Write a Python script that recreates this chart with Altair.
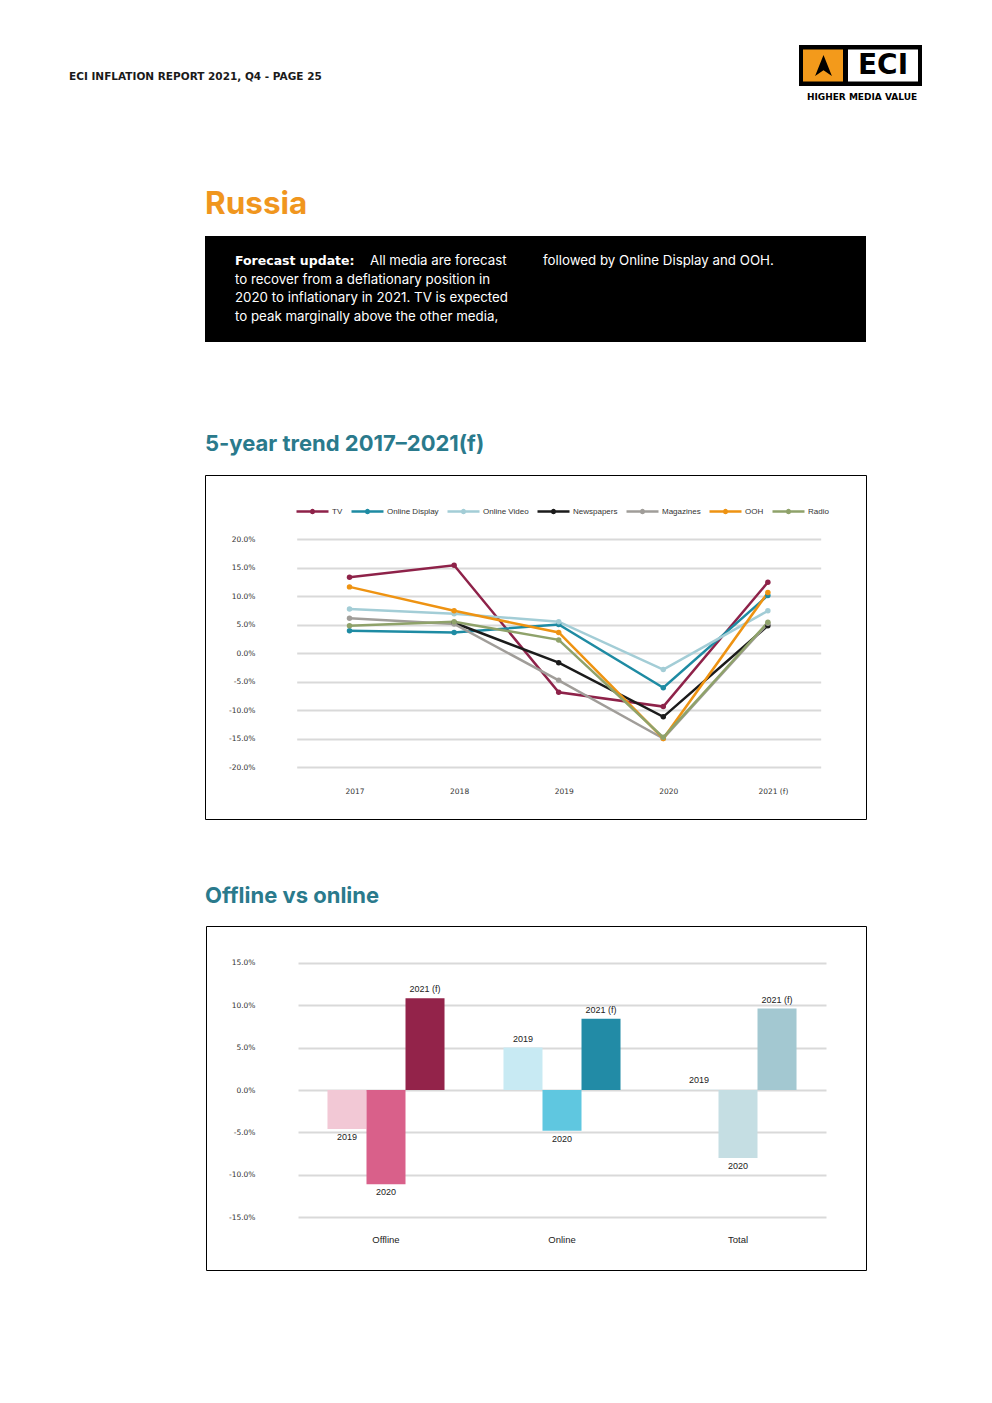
import altair as alt
import pandas as pd

# ---------------- data ----------------
years = ["2017", "2018", "2019", "2020", "2021 (f)"]
media = ["TV", "Online Display", "Online Video", "Newspapers", "Magazines", "OOH", "Radio"]
media_colors = ["#8E2249", "#1E8BA3", "#A3CDD6", "#1B1B1B", "#A09D99", "#EE9312", "#8FA26A"]
tv = [13.3, 15.4, -6.9, -9.4, 12.4]
online_display = [3.9, 3.6, 5.0, -6.1, 10.1]
online_video = [7.7, 6.9, 5.5, -2.9, 7.4]
newspapers = [None, 5.3, -1.7, -11.2, 4.8]
magazines = [6.1, 5.1, -4.8, -15.0, 5.2]
ooh = [11.6, 7.4, 3.6, -15.0, 10.6]
radio = [4.8, 5.5, 2.3, -14.8, 5.4]
line_ticks = [-20, -15, -10, -5, 0, 5, 10, 15, 20]

categories = ["Offline", "Online", "Total"]
bar_years = ["2019", "2020", "2021 (f)"]
offline = [-4.6, -11.1, 10.8]
online = [5.0, -4.8, 8.4]
total = [0.1, -8.0, 9.6]
bar_colors = ["#F2C8D5", "#D9608A", "#93234A",
              "#C8EAF3", "#5FC7E0", "#228BA6",
              "#E6F1F3", "#C5DEE3", "#A3C8D1"]
bar_ticks = [-15, -10, -5, 0, 5, 10, 15]

# ---------------- layout ----------------
W, H = 976, 1387


def pg(v):
    """page pixel -> chart pixel (8px body margin)"""
    return v - 8


AX_FONT = "DejaVu Sans"
HEAD_FONT = "Inter"
TEAL = "#2A7A8C"
ORANGE = "#F0961E"
PCT = "(datum.value < 0 ? '-' : '') + format(abs(datum.value), '.1f') + '%'"

one = pd.DataFrame({"k": [0]})


def txt(s, x, y, size, color="#000000", weight="normal", font=HEAD_FONT, align="left", baseline="middle"):
    return alt.Chart(one).mark_text(
        text=s, fontSize=size, color=color, fontWeight=weight, font=font,
        align=align, baseline=baseline
    ).encode(x=alt.value(pg(x)), y=alt.value(pg(y)))


def box(x1, y1, x2, y2, fill=None, stroke=None, sw=1):
    kw = {}
    if fill is not None:
        kw["fill"] = fill
    else:
        kw["fillOpacity"] = 0
    if stroke is not None:
        kw["stroke"] = stroke
        kw["strokeWidth"] = sw
    return alt.Chart(one).mark_rect(**kw).encode(
        x=alt.value(pg(x1)), x2=alt.value(pg(x2)),
        y=alt.value(pg(y1)), y2=alt.value(pg(y2)))


deco = [
    # header
    txt("ECI INFLATION REPORT 2021, Q4  - PAGE 25", 69, 77, 10.5, "#1a1a1a", "bold", "DejaVu Sans"),
    # logo
    box(799, 45, 922, 86, fill="#000000"),
    box(803, 49.5, 843, 81.5, fill="#F39A1B"),
    box(848, 49.5, 918, 81.5, fill="#FFFFFF"),
    alt.Chart(one).mark_point(shape="M0,-1L0.8,1L0,0.45L-0.8,1Z", filled=True, fill="#000000",
                              opacity=1, size=441, strokeWidth=0).encode(
        x=alt.value(pg(823.5)), y=alt.value(pg(65.5))),
    txt("ECI", 883, 65.5, 28, "#000000", "bold", "DejaVu Sans", align="center"),
    txt("HIGHER MEDIA VALUE", 862, 97, 9, "#000000", "bold", "DejaVu Sans", align="center"),
    # title
    txt("Russia", 205, 214, 31.5, ORANGE, "bold", baseline="alphabetic"),
    # black text box
    box(205, 236, 866, 342, fill="#000000"),
    txt("Forecast update:", 235, 261, 12.5, "#FFFFFF", "bold", "DejaVu Sans"),
    txt("All media are forecast", 370, 261, 13.3, "#FFFFFF"),
    txt("to recover from a deflationary position in", 235, 279.5, 13.3, "#FFFFFF"),
    txt("2020 to inflationary in 2021. TV is expected", 235, 298, 13.3, "#FFFFFF"),
    txt("to peak marginally above the other media,", 235, 316.5, 13.3, "#FFFFFF"),
    txt("followed by Online Display and OOH.", 543, 261, 13.3, "#FFFFFF"),
    # section titles
    txt("5-year trend 2017\u20132021(f)", 205, 451, 22, TEAL, "bold", baseline="alphabetic"),
    txt("Offline vs online", 205, 903, 22, TEAL, "bold", baseline="alphabetic"),
    # chart frames
    box(205.5, 475.5, 866.5, 819.5, stroke="#000000"),
    box(206.5, 926.5, 866.5, 1270.5, stroke="#000000"),
]

# ---------------- line chart ----------------
rows = []
for name, vals in zip(media, [tv, online_display, online_video, newspapers, magazines, ooh, radio]):
    for yr, v in zip(years, vals):
        if v is not None:
            rows.append({"year": yr, "media": name, "value": v})
line_df = pd.DataFrame(rows)

legend_symbol = "M-1,0L1,0M0.09,0A0.09,0.09,0,1,1,-0.09,0A0.09,0.09,0,1,1,0.09,0"

line_chart = alt.Chart(line_df).mark_line(
    strokeWidth=2.5, point=alt.OverlayMarkDef(filled=True, size=30, opacity=1)
).encode(
    x=alt.X("year:N", sort=years,
            scale=alt.Scale(type="point", domain=years, range=[pg(296.7), pg(820.7)], padding=0.505),
            axis=alt.Axis(orient="bottom", offset=pg(785) - H, title=None, domain=False, ticks=False,
                          grid=False, labelAngle=0, labelPadding=2, labelOffset=5,
                          labelFont=AX_FONT, labelFontSize=7.5, labelColor="#333333")),
    y=alt.Y("value:Q",
            scale=alt.Scale(domain=[-20, 20], range=[pg(767), pg(539)], nice=False, zero=False),
            axis=alt.Axis(orient="left", offset=-pg(257), title=None, domain=False, ticks=False,
                          values=line_ticks, labelExpr=PCT,
                          grid=True, gridColor="#D9D9D9", gridWidth=2, labelPadding=2,
                          labelFont=AX_FONT, labelFontSize=7.5, labelColor="#333333")),
    color=alt.Color("media:N", sort=media,
                    scale=alt.Scale(domain=media, range=media_colors),
                    legend=alt.Legend(orient="none", legendX=pg(295), legendY=pg(494),
                                      direction="horizontal", title=None,
                                      symbolType=legend_symbol, symbolSize=1024,
                                      symbolStrokeWidth=2.5, labelFont="Liberation Sans",
                                      labelFontSize=8, labelColor="#333333",
                                      labelOffset=2, columnPadding=3)),
    order=alt.Order("year:N"),
)

# ---------------- bar chart ----------------
bar_rows = []
for cat, vals in zip(categories, [offline, online, total]):
    for yr, v in zip(bar_years, vals):
        bar_rows.append({"cat": cat, "year": yr, "value": v, "key": cat + " " + yr})
bar_df = pd.DataFrame(bar_rows)
keys = list(bar_df["key"])

bar_base = alt.Chart(bar_df).encode(
    x=alt.X("cat:N", sort=categories,
            scale=alt.Scale(domain=categories, range=[pg(298), pg(826)],
                            paddingInner=0.335, paddingOuter=0.1675),
            axis=alt.Axis(orient="bottom", offset=pg(1232) - H, title=None, domain=False,
                          ticks=False, grid=False, labelAngle=0, labelPadding=2,
                          labelFont="Liberation Sans", labelFontSize=9.5, labelColor="#222222")),
    xOffset=alt.XOffset("year:N", sort=bar_years,
                        scale=alt.Scale(domain=bar_years, paddingInner=0, paddingOuter=0)),
    y=alt.Y("value:Q",
            scale=alt.Scale(domain=[-15, 15], range=[pg(1217.3), pg(962.7)], nice=False, zero=False),
            axis=alt.Axis(orient="left", offset=-pg(257), title=None, domain=False, ticks=False,
                          values=bar_ticks, labelExpr=PCT,
                          grid=True, gridColor="#D9D9D9", gridWidth=2, labelPadding=2,
                          labelFont=AX_FONT, labelFontSize=7.5, labelColor="#333333")),
)

bars = bar_base.mark_bar().encode(
    color=alt.Color("key:N", scale=alt.Scale(domain=keys, range=bar_colors), legend=None)
)
lab_pos = bar_base.mark_text(baseline="bottom", dy=-4, font="Liberation Sans", fontSize=9,
                             color="#222222").encode(text="year:N").transform_filter("datum.value >= 0")
lab_neg = bar_base.mark_text(baseline="top", dy=4, font="Liberation Sans", fontSize=9,
                             color="#222222").encode(text="year:N").transform_filter("datum.value < 0")

bar_chart = alt.layer(bars, lab_pos, lab_neg)

chart = alt.layer(*deco, line_chart, bar_chart).resolve_scale(
    x="independent", y="independent", color="independent"
).resolve_axis(
    x="independent", y="independent"
).resolve_legend(
    color="independent"
).properties(
    width=W, height=H, autosize=alt.AutoSizeParams(type="none"), padding=0,
    background="white"
).configure_view(stroke=None)

chart.save("out.html", embed_options={"renderer": "svg", "actions": False})
